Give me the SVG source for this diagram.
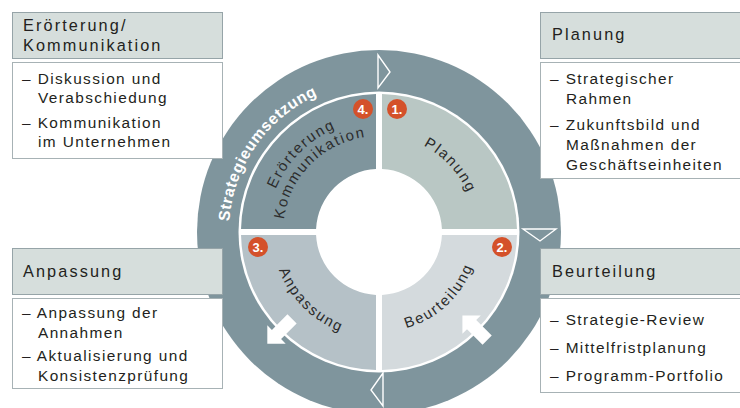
<svg xmlns="http://www.w3.org/2000/svg" xmlns:xlink="http://www.w3.org/1999/xlink" width="740" height="408" viewBox="0 0 740 408">
  <style>
    .ttl { fill: #d6dedc; stroke: #96a4a8; stroke-width: 1; }
    .bdy { fill: #ffffff; stroke: #a7b2b5; stroke-width: 1; }
    .ht { font-family: "Liberation Sans", Arial, sans-serif; font-size: 16.3px; letter-spacing: 2.1px; fill: #231f20; }
    .bt { font-family: "Liberation Sans", Arial, sans-serif; font-size: 15.4px; letter-spacing: 1.4px; fill: #231f20; }
    .qt { font-family: "Liberation Sans", Arial, sans-serif; font-size: 14.8px; letter-spacing: 1.8px; fill: #2b2b2b; }
    .rt { font-family: "Liberation Sans", Arial, sans-serif; font-size: 15.8px; font-weight: bold; letter-spacing: 0.6px; fill: #ffffff; }
    .badge { fill: #d4512a; }
    .bn { font-family: "Liberation Sans", Arial, sans-serif; font-size: 13px; font-weight: bold; fill: #ffffff; text-anchor: middle; }
    .tri { fill: none; stroke: #ffffff; stroke-width: 1.4; stroke-linejoin: miter; }
    .arrow { fill: #ffffff; }
  </style>
  <defs>
    <!-- text baselines, all centred on the ring centre (379,232) -->
    <path id="pRing" d="M256.13,318.04 A150,150 0 0 1 417.82,87.11"/>
    <path id="pPlan" d="M357.18,137.48 A97,97 0 0 1 471.76,260.36"/>
    <path id="pErr" d="M270.82,260.99 A113,113 0 0 1 408.25,122.85"/>
    <path id="pKom" d="M286.27,256.85 A96,96 0 0 1 403.85,139.27"/>
    <path id="pAnp" d="M275.65,204.31 A107,107 0 0 0 406.69,335.35"/>
    <path id="pBeu" d="M349.76,327.63 A100,100 0 0 0 476.44,209.5"/>
    <path id="arr" d="M-22,-6.5 H0 V-13 L13,0 L0,13 V6.5 H-22 Z"/>
  </defs>

  <!-- outer ring and cycle -->
  <g id="ring">
    <circle cx="379" cy="232" r="182" fill="#7f959d"/>
    <circle cx="379" cy="232" r="140.5" fill="#ffffff"/>
    <text class="rt"><textPath xlink:href="#pRing" href="#pRing" startOffset="50%" text-anchor="middle">Strategieumsetzung</textPath></text>
  </g>

  <g id="q-planung">
    <path d="M382,94.03 A138,138 0 0 1 516.97,229 L441.93,229 A63,63 0 0 0 382,169.07 Z" fill="#b9c7c4"/>
    <text class="qt"><textPath xlink:href="#pPlan" href="#pPlan" startOffset="50%" text-anchor="middle">Planung</textPath></text>
    <circle class="badge" cx="397" cy="109" r="10"/>
    <text class="bn" x="397" y="113.5">1.</text>
  </g>

  <g id="q-beurteilung">
    <path d="M516.97,235 A138,138 0 0 1 382,369.97 L382,294.93 A63,63 0 0 0 441.93,235 Z" fill="#d4dadd"/>
    <text class="qt"><textPath xlink:href="#pBeu" href="#pBeu" startOffset="50%" text-anchor="middle">Beurteilung</textPath></text>
    <circle class="badge" cx="502" cy="247" r="10"/>
    <text class="bn" x="502" y="251.5">2.</text>
  </g>

  <g id="q-anpassung">
    <path d="M376,369.97 A138,138 0 0 1 241.03,235 L316.07,235 A63,63 0 0 0 376,294.93 Z" fill="#b5c1c7"/>
    <text class="qt"><textPath xlink:href="#pAnp" href="#pAnp" startOffset="50%" text-anchor="middle">Anpassung</textPath></text>
    <circle class="badge" cx="258" cy="247" r="10"/>
    <text class="bn" x="258" y="251.5">3.</text>
  </g>

  <g id="q-eroerterung">
    <path d="M241.03,229 A138,138 0 0 1 376,94.03 L376,169.07 A63,63 0 0 0 316.07,229 Z" fill="#7f959d"/>
    <text class="qt"><textPath xlink:href="#pErr" href="#pErr" startOffset="50%" text-anchor="middle">Erörterung</textPath></text>
    <text class="qt"><textPath xlink:href="#pKom" href="#pKom" startOffset="50%" text-anchor="middle">Kommunikation</textPath></text>
    <circle class="badge" cx="363" cy="109" r="10"/>
    <text class="bn" x="363" y="113.5">4.</text>
  </g>

  <!-- direction markers on the ring and the white block arrows -->
  <g id="connectors">
    <path class="tri" d="M378,55 L378,88 L390,72 Z"/>
    <path class="tri" d="M523,229 L556,229 L540,241 Z"/>
    <path class="tri" d="M383,373 L383,406 L371,390 Z"/>
    <use class="arrow" xlink:href="#arr" href="#arr" transform="translate(276.5,334.5) rotate(135)"/>
    <use class="arrow" xlink:href="#arr" href="#arr" transform="translate(471.6,324.6) rotate(225)"/>
  </g>

  <!-- description boxes -->
  <g id="box-eroerterung">
    <rect class="ttl" x="12.5" y="12.5" width="210" height="46"/>
    <text class="ht" x="23" y="31">Erörterung/</text>
    <text class="ht" x="23" y="51">Kommunikation</text>
    <rect class="bdy" x="12.5" y="62.5" width="210" height="96"/>
    <text class="bt" x="22" y="84">– Diskussion und</text>
    <text class="bt" x="38" y="103">Verabschiedung</text>
    <text class="bt" x="22" y="128">– Kommunikation</text>
    <text class="bt" x="38" y="147">im Unternehmen</text>
  </g>

  <g id="box-planung">
    <rect class="ttl" x="540.5" y="12.5" width="210" height="46"/>
    <text class="ht" x="552" y="40">Planung</text>
    <rect class="bdy" x="540.5" y="62.5" width="210" height="116"/>
    <text class="bt" x="550" y="84">– Strategischer</text>
    <text class="bt" x="566" y="104">Rahmen</text>
    <text class="bt" x="550" y="130">– Zukunftsbild und</text>
    <text class="bt" x="566" y="150">Maßnahmen der</text>
    <text class="bt" x="566" y="170">Geschäftseinheiten</text>
  </g>

  <g id="box-anpassung">
    <rect class="ttl" x="12.5" y="248.5" width="210" height="46"/>
    <text class="ht" x="23" y="277">Anpassung</text>
    <rect class="bdy" x="12.5" y="298.5" width="210" height="90"/>
    <text class="bt" x="22" y="318">– Anpassung der</text>
    <text class="bt" x="38" y="338">Annahmen</text>
    <text class="bt" x="22" y="361">– Aktualisierung und</text>
    <text class="bt" x="38" y="381">Konsistenzprüfung</text>
  </g>

  <g id="box-beurteilung">
    <rect class="ttl" x="540.5" y="248.5" width="210" height="46"/>
    <text class="ht" x="552" y="277">Beurteilung</text>
    <rect class="bdy" x="540.5" y="298.5" width="210" height="94"/>
    <text class="bt" x="550" y="325">– Strategie-Review</text>
    <text class="bt" x="550" y="353">– Mittelfristplanung</text>
    <text class="bt" x="550" y="381">– Programm-Portfolio</text>
  </g>
</svg>
